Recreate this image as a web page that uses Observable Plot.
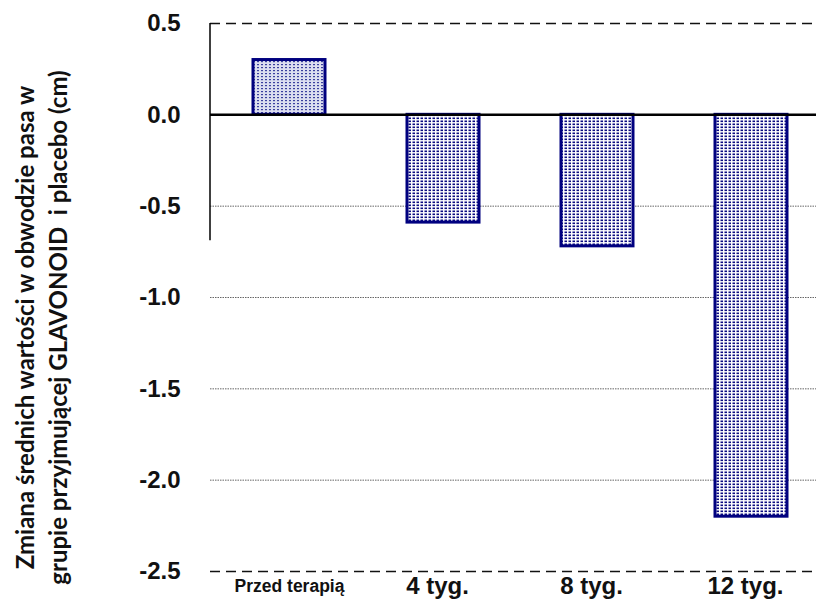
<!DOCTYPE html>
<html><head><meta charset="utf-8">
<script src="https://cdn.jsdelivr.net/npm/d3@7"></script>
<script src="https://cdn.jsdelivr.net/npm/@observablehq/plot@0.6"></script>
<style>body{margin:0;background:#fff}</style>
</head><body><div id="chart"></div>
<script>
const categories = ["Przed terapią", "4 tyg.", "8 tyg.", "12 tyg."];
const values = [0.30, -0.59, -0.72, -2.20];
const yTicks = [0.5, 0.0, -0.5, -1.0, -1.5, -2.0, -2.5];
const dottedGrid = [-0.5, -1.0, -1.5, -2.0];
const dashedGrid = [0.5, -2.5];
const axisLineEnd = -0.69;
const yTitle = "Zmiana średnich wartości w obwodzie pasa w\ngrupie przyjmującej GLAVONOID  i placebo (cm)";

const data = categories.map((c, i) => ({cat: c, value: values[i], pat: i === 0 ? "url(#dotsLight)" : "url(#dotsDense)"}));

const leftLine = (index, scales, values, dims) => {
  const g = d3.create("svg:g");
  g.append("line")
    .attr("x1", dims.marginLeft).attr("x2", dims.marginLeft)
    .attr("y1", scales.y(0.5)).attr("y2", scales.y(axisLineEnd))
    .attr("stroke", "#000").attr("stroke-width", 1.5);
  return g.node();
};

const chart = Plot.plot({
  width: 816,
  height: 601,
  marginLeft: 210,
  marginRight: 0,
  marginTop: 23,
  marginBottom: 30,
  style: {background: "transparent", fontFamily: "Liberation Sans, Arial, sans-serif"},
  x: {domain: categories, range: [210, 829], paddingInner: 0.535, paddingOuter: 0.27, axis: null},
  y: {domain: [-2.5, 0.5], range: [571, 23], axis: null},
  marks: [
    Plot.ruleY(dottedGrid, {stroke: "#666", strokeWidth: 1, strokeDasharray: "1.5,1"}),
    Plot.ruleY(dashedGrid, {stroke: "#111", strokeWidth: 1.5, strokeDasharray: "10,6"}),
    Plot.barY(data, {x: "cat", y: "value", fill: "pat", stroke: "#00007f", strokeWidth: 3}),
    Plot.ruleY([0], {stroke: "#000", strokeWidth: 2.5}),
    leftLine,
    Plot.text(yTicks, {y: d => d, text: d => d.toFixed(1), frameAnchor: "left", textAnchor: "end", dx: -30, fontWeight: "bold", fontSize: 24, fill: "#111"}),
    Plot.text(categories.slice(0, 1), {x: d => d, y: -2.5, text: d => d, dy: 15, fontWeight: "bold", fontSize: 17.5, fill: "#111"}),
    Plot.text(categories.slice(1), {x: d => d, y: -2.5, text: d => d, dy: 15, dx: -6, fontWeight: "bold", fontSize: 24, fill: "#111"}),
    Plot.text([yTitle], {frameAnchor: "left", textAnchor: "middle", dx: -170.5, dy: 30, rotate: -90, text: d => d, fontWeight: "bold", fontSize: 24, lineHeight: 1.375, fill: "#111", fontFamily: "Lato, sans-serif"})
  ]
});

const svg = d3.select(chart);
const defs = svg.insert("defs", ":first-child");
const p1 = defs.append("pattern").attr("id", "dotsLight").attr("patternUnits", "userSpaceOnUse").attr("width", 4).attr("height", 3);
p1.append("rect").attr("width", 4).attr("height", 3).attr("fill", "#dcdef0");
p1.append("rect").attr("x", 1).attr("y", 1).attr("width", 2).attr("height", 1.2).attr("fill", "#3b3f9e");
const p2 = defs.append("pattern").attr("id", "dotsDense").attr("patternUnits", "userSpaceOnUse").attr("width", 4).attr("height", 3);
p2.append("rect").attr("width", 4).attr("height", 3).attr("fill", "#ffffff");
p2.append("rect").attr("x", 0.5).attr("y", 0.5).attr("width", 2.5).attr("height", 1.6).attr("fill", "#0a0a80");

document.getElementById("chart").appendChild(chart);
</script>
</body></html>
